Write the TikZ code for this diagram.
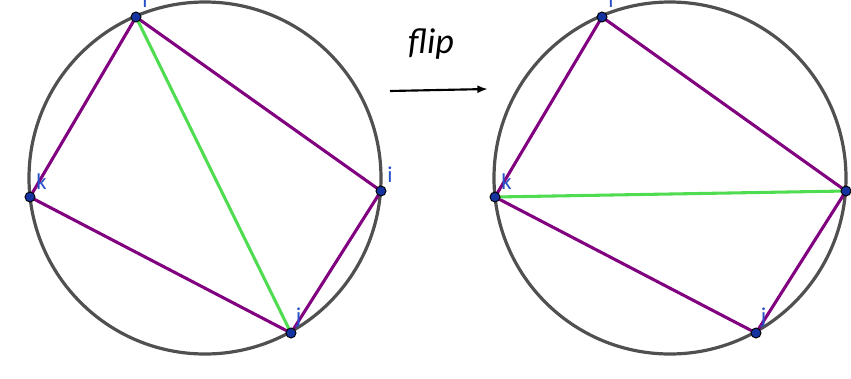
\documentclass[tikz,border=0pt]{standalone}
\usepackage{fontspec}
\setmainfont{Carlito}
\usetikzlibrary{positioning,arrows.meta}

\definecolor{rimcol}{RGB}{80,80,80}
\definecolor{quadcol}{RGB}{128,0,128}
\definecolor{diagcol}{RGB}{80,220,80}
\definecolor{ptcol}{RGB}{20,50,160}
\definecolor{lblcol}{RGB}{40,80,200}

\tikzset{
  rimline/.style={draw=rimcol, line width=2.4pt},
  quadline/.style={draw=quadcol, line width=2.3pt},
  diagline/.style={draw=diagcol, line width=2.3pt},
  vtx/.style={circle, fill=ptcol, draw=black, line width=0.7pt, inner sep=0pt, minimum size=7.5pt},
  vlbl/.style={text=lblcol, font=\fontsize{17}{17}\selectfont, inner sep=0pt},
}

\begin{document}
\begin{tikzpicture}[x=0.75pt,y=-0.75pt]
\useasboundingbox (0,0) rectangle (851,379);

% before the flip
\coordinate (cA) at (205,178);
\coordinate (lA) at (136,17);
\coordinate (kA) at (30,197);
\coordinate (iA) at (381,191);
\coordinate (jA) at (291,333);
\draw[rimline] (cA) circle (132pt);
\draw[quadline] (lA) -- (iA) -- (jA) -- (kA) -- cycle;
\draw[diagline] (lA) -- (jA);
\foreach \p in {lA,kA,iA,jA} \node[vtx] at (\p) {};
\node[vlbl, above right=7pt and 4.5pt of lA] {l};
\node[vlbl, above right=5.5pt and 4.5pt of kA] {k};
\node[vlbl, above right=6pt and 4.5pt of iA] {i};
\node[vlbl, above right=4pt and 3.5pt of jA] {j};

% arrow
\coordinate (aS) at (390,91);
\coordinate (aE) at (488,89);
\draw[line width=1.6pt, -{Latex[length=8pt,width=6pt]}] (aS) -- (aE);
\node[font=\fontsize{27}{27}\selectfont\itshape] (flip) at (431,44) {flip};

% after the flip
\coordinate (cB) at (670,178);
\coordinate (lB) at (602,17);
\coordinate (kB) at (495,197);
\coordinate (iB) at (846,191);
\coordinate (jB) at (756,333);
\draw[rimline] (cB) circle (132pt);
\draw[quadline] (lB) -- (iB) -- (jB) -- (kB) -- cycle;
\draw[diagline] (kB) -- (iB);
\foreach \p in {lB,kB,iB,jB} \node[vtx] at (\p) {};
\node[vlbl, above right=7pt and 4.5pt of lB] {l};
\node[vlbl, above right=5.5pt and 4.5pt of kB] {k};
\node[vlbl, above right=4pt and 3.5pt of jB] {j};
\end{tikzpicture}
\end{document}
